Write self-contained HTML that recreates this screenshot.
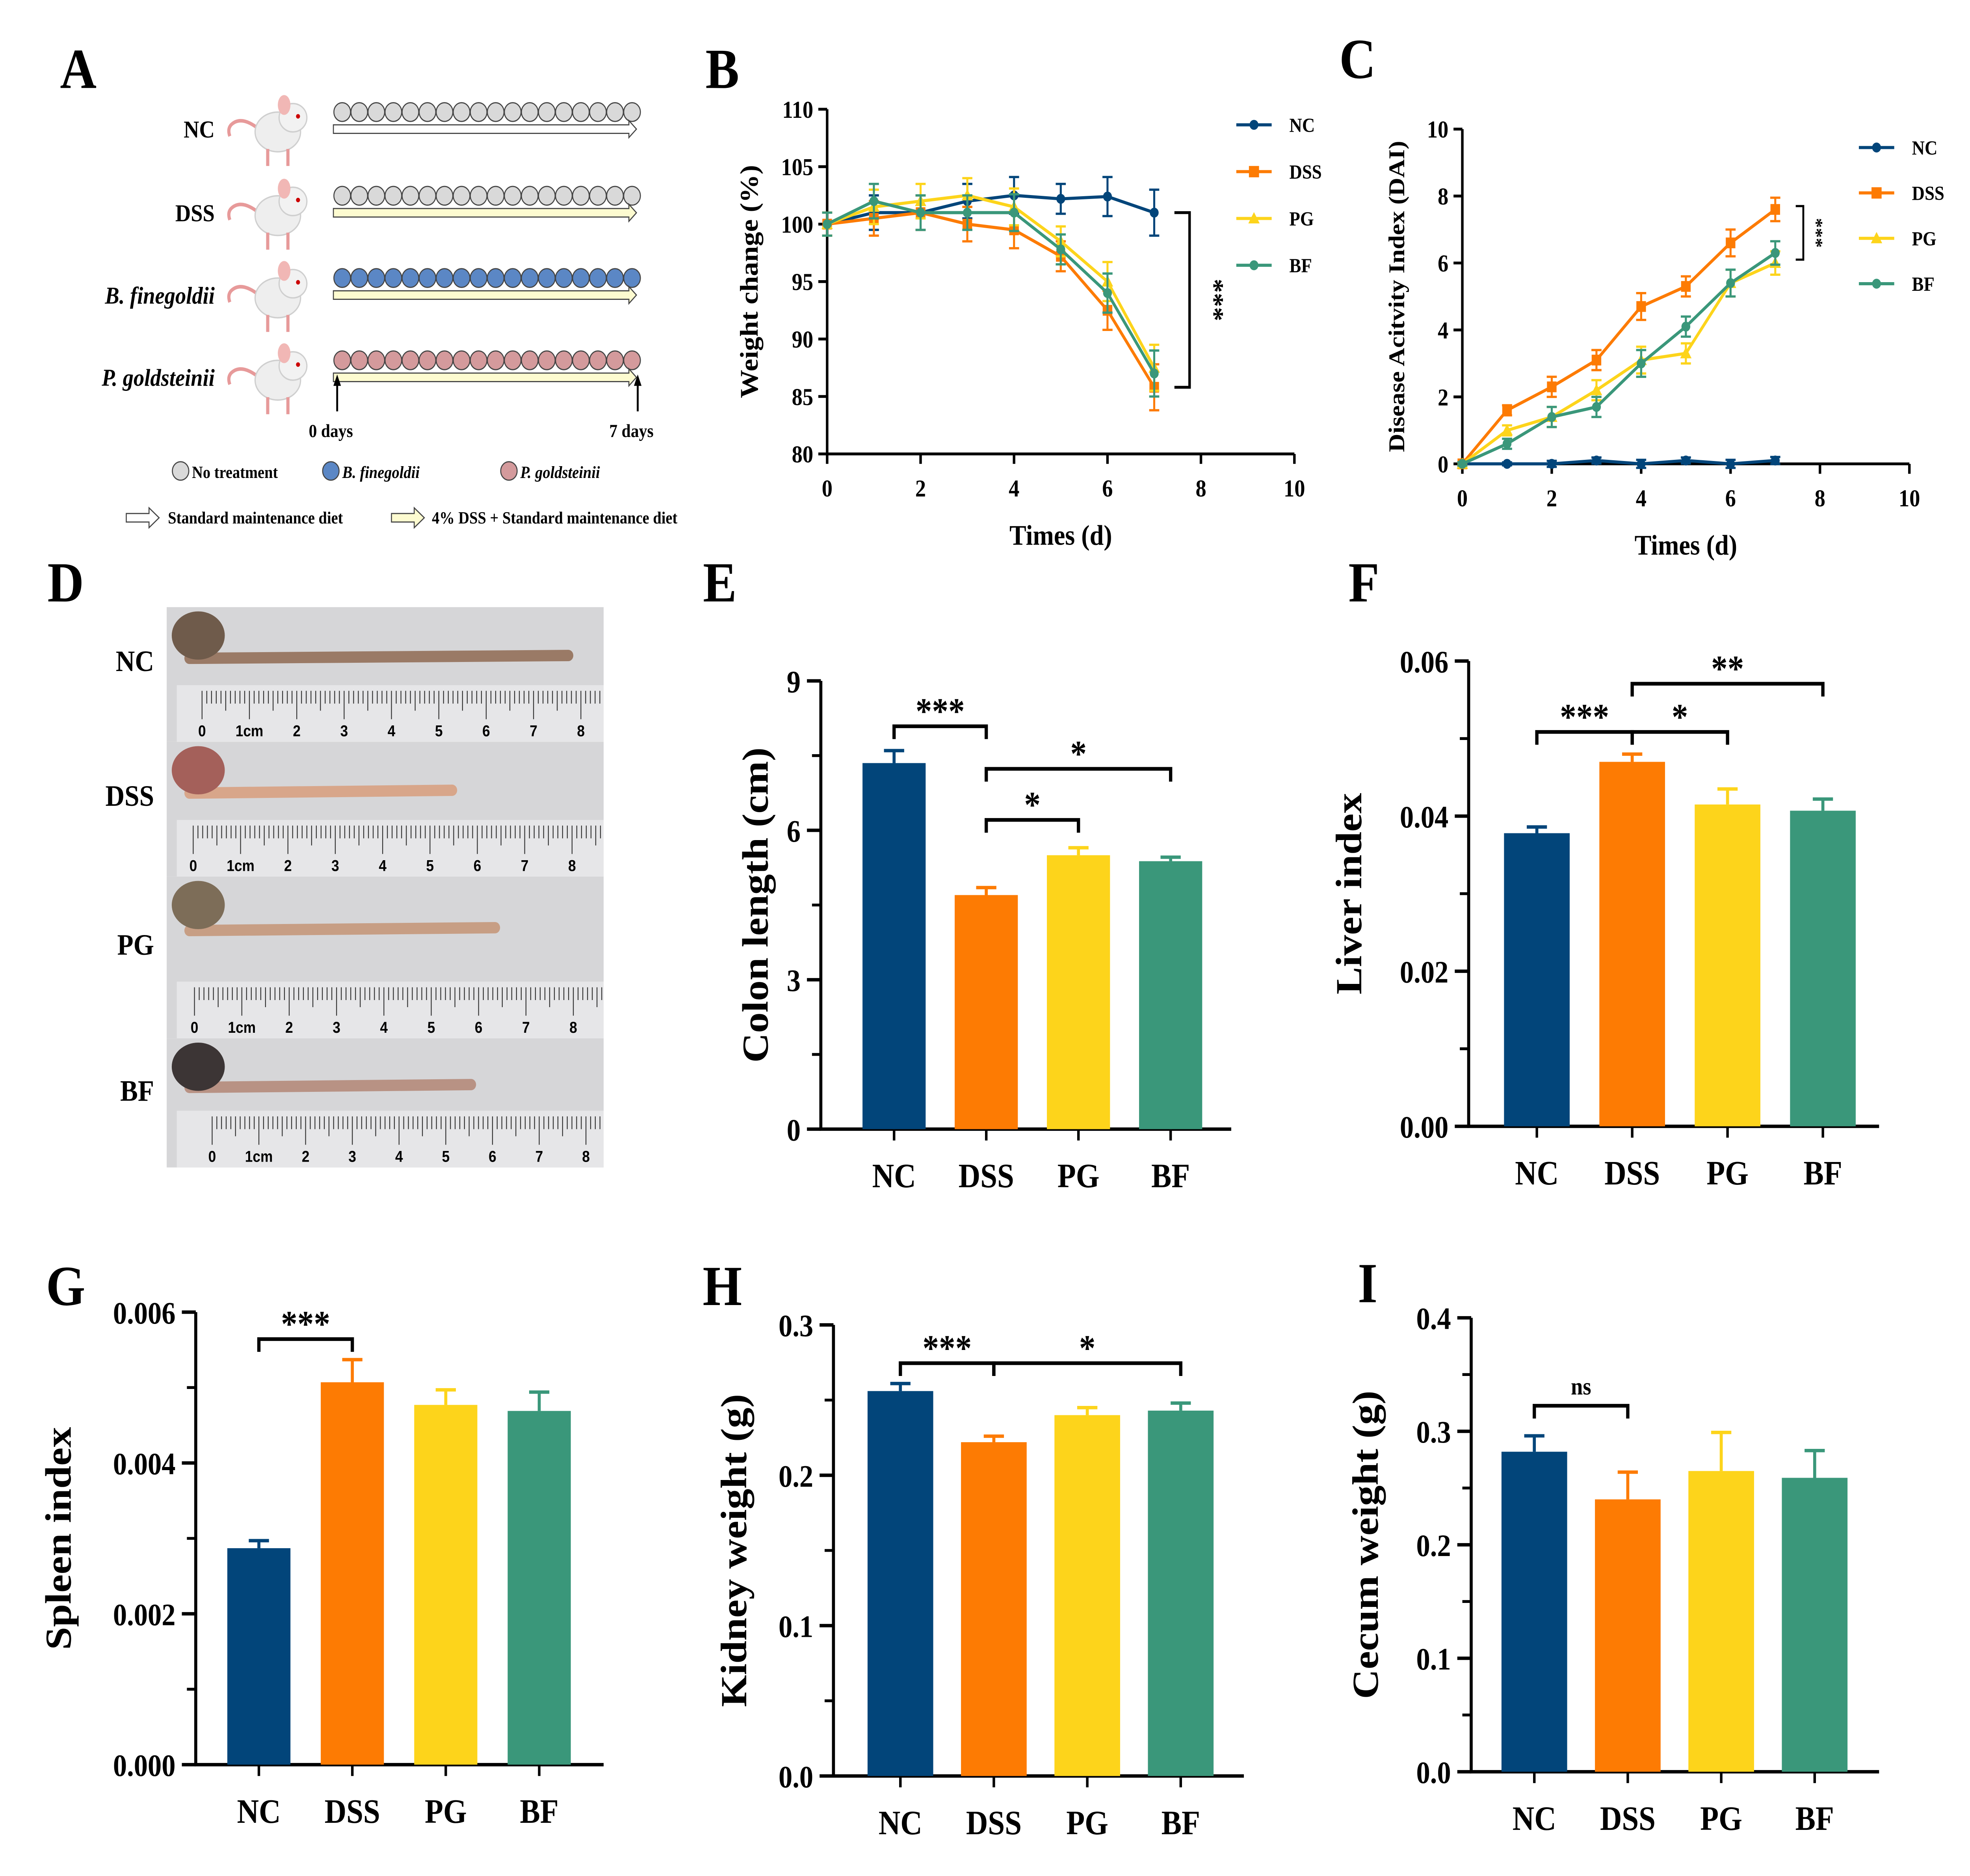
<!DOCTYPE html>
<html><head><meta charset="utf-8"><style>
html,body{margin:0;padding:0;background:#fff;width:100%;height:100%;overflow:hidden}
svg{display:block;position:fixed;left:0;top:0;width:100vw;height:100vh}
text{font-family:"Liberation Serif",serif;font-weight:bold;fill:#000}
</style></head><body>
<svg id="fig" xmlns="http://www.w3.org/2000/svg" viewBox="0 0 1560 1322.5" preserveAspectRatio="none">
<rect width="1560" height="1323" fill="#fff"/>
<g id="A"></g>
<g id="B"></g>
<g id="C"></g>
<g id="D"></g>
<g id="E"></g>
<g id="F"></g>
<g id="G"></g>
<g id="H"></g>
<g id="I"></g>
</svg>
<script>
const groups=["NC","DSS","PG","BF"];
const colors=["#02457a","#fd7b03","#fdd41b","#3a977a"];
const days=[0,1,2,3,4,5,6,7];
const weightNC=[100,101,101,102,102.5,102.2,102.4,101];
const weightDSS=[100,100.5,101,100,99.5,97.2,92.5,85.8];
const weightPG=[100,101.5,102,102.5,101.5,98.5,95,87.5];
const weightBF=[100,102,101,101,101,97.8,94,87];
const weightErr=[1,1.5,1.5,1.5,1.6,1.3,1.7,2];
const daiNC=[0,0,0,0.1,0,0.1,0,0.1];
const daiDSS=[0,1.6,2.3,3.1,4.7,5.3,6.6,7.6];
const daiPG=[0,1.0,1.4,2.2,3.1,3.3,5.4,6.0];
const daiBF=[0,0.6,1.4,1.7,3.0,4.1,5.4,6.3];
const daiErr=[0.05,0.15,0.3,0.3,0.4,0.3,0.4,0.35];
const colonVals=[7.35,4.7,5.5,5.38];const colonErr=[0.25,0.15,0.15,0.08];
const liverVals=[0.0378,0.047,0.0415,0.0407];const liverErr=[0.0008,0.001,0.002,0.0015];
const spleenVals=[0.00287,0.00507,0.00477,0.00469];const spleenErr=[0.0001,0.0003,0.0002,0.00025];
const kidneyVals=[0.256,0.222,0.240,0.243];const kidneyErr=[0.005,0.004,0.005,0.005];
const cecumVals=[0.282,0.240,0.265,0.259];const cecumErr=[0.014,0.024,0.034,0.024];

const NS="http://www.w3.org/2000/svg";
function el(parent,tag,attrs,txt){const e=document.createElementNS(NS,tag);for(const k in attrs)e.setAttribute(k,attrs[k]);if(txt!==undefined)e.textContent=txt;parent.appendChild(e);return e;}
function ln(p,x1,y1,x2,y2,c,w){return el(p,"line",{x1,y1,x2,y2,stroke:c||"#000","stroke-width":w||2});}

const letters=[["A",62,62],["B",572,62],["C",1075,55],["D",52,424],["E",570,424],["F",1080,424],["G",52,920],["H",572,920],["I",1083,918]];
letters.forEach(l=>{const t=el(document.getElementById("fig"),"text",{x:l[1],y:l[2],"font-size":40,"text-anchor":"middle"},l[0]);

});

// ---------- Panel A ----------
(function(){
const g=document.getElementById("A");
const rows=[{lab:"NC",y:79,fill:"#d9d9d9",arrow:"#fff",it:false},{lab:"DSS",y:138,fill:"#d9d9d9",arrow:"#fdfbd0",it:false},{lab:"B. finegoldii",y:196,fill:"#5b87c5",arrow:"#fdfbd0",it:true},{lab:"P. goldsteinii",y:254,fill:"#d49a9c",arrow:"#fdfbd0",it:true}];
rows.forEach((r,i)=>{
 const t=el(g,"text",{x:170,y:r.y+18,"font-size":17,"text-anchor":"end","font-style":r.it?"italic":"normal"},r.lab);
 
 const m=el(g,"g",{});
 const mx=220,my=r.y+12;
 el(m,"path",{d:`M${mx-15},${my} q-14,-10 -22,-3 q-3,3 -1,8`,fill:"none",stroke:"#e79a9a","stroke-width":2.5});
 el(m,"ellipse",{cx:mx,cy:my+2,rx:18,ry:14,fill:"#eeeeee",stroke:"#cfcfcf"});
 el(m,"ellipse",{cx:mx+12,cy:my-8,rx:11,ry:10,fill:"#f2f2f2",stroke:"#cfcfcf"});
 el(m,"ellipse",{cx:mx+5,cy:my-17,rx:5,ry:7,fill:"#f1b7b5"});
 el(m,"circle",{cx:mx+16,cy:my-9,r:1.6,fill:"#c00"});
 ln(m,mx-8,my+14,mx-8,my+26,"#e79a9a",2.5);ln(m,mx+8,my+14,mx+8,my+26,"#e79a9a",2.5);
 for(let k=0;k<18;k++)el(g,"circle",{cx:271+k*13.5,cy:r.y,r:6.6,fill:r.fill,stroke:"#444","stroke-width":0.8});
 const ay=r.y+12;
 const ar=el(g,"path",{d:`M264,${ay-3} H498 V${ay-6} L504,${ay} L498,${ay+6} V${ay+3} H264 Z`,fill:r.arrow,stroke:"#444","stroke-width":0.8});
 
});
ln(g,267,290,267,270,"#000",1.5);el(g,"path",{d:"M264,272 L267,264 L270,272Z",fill:"#000"});
ln(g,505,290,505,270,"#000",1.5);el(g,"path",{d:"M502,272 L505,264 L508,272Z",fill:"#000"});
el(g,"text",{x:262,y:308,"font-size":13,"text-anchor":"middle"},"0 days");
el(g,"text",{x:500,y:308,"font-size":13,"text-anchor":"middle"},"7 days");
const lg=[[143,"#d9d9d9","No treatment",false],[262,"#5b87c5","B. finegoldii",true],[403,"#d49a9c","P. goldsteinii",true]];
lg.forEach(l=>{el(g,"circle",{cx:l[0],cy:332,r:6.5,fill:l[1],stroke:"#444","stroke-width":0.8});
 const t=el(g,"text",{x:l[0]+9,y:337,"font-size":12,"font-weight":"normal","font-style":l[3]?"italic":"normal"},l[2]);});
el(g,"path",{d:"M100,362 H118 V358 L126,365 L118,372 V368 H100Z",fill:"#fff",stroke:"#444","stroke-width":0.8});
el(g,"text",{x:133,y:369,"font-size":12},"Standard  maintenance  diet");
el(g,"path",{d:"M310,362 H328 V358 L336,365 L328,372 V368 H310Z",fill:"#fdfbd0",stroke:"#444","stroke-width":0.8});
el(g,"text",{x:342,y:369,"font-size":12},"4% DSS + Standard  maintenance  diet");
})();

// ---------- Line charts ----------
function lineChart(gid,cfg,series,err){
 const g=document.getElementById(gid);
 const X=v=>cfg.x0+(v-cfg.xmin)/(cfg.xmax-cfg.xmin)*(cfg.x1-cfg.x0);
 const Y=v=>cfg.y0-(v-cfg.ymin)/(cfg.ymax-cfg.ymin)*(cfg.y0-cfg.y1);
 const ax=el(g,"g",{});
 ln(ax,cfg.x0,cfg.y0,cfg.x1,cfg.y0);ln(ax,cfg.x0,cfg.y0+1,cfg.x0,cfg.y1);
 cfg.xt.forEach(v=>{ln(ax,X(v),cfg.y0,X(v),cfg.y0+7);el(ax,"text",{x:X(v),y:cfg.y0+30,"font-size":17,"text-anchor":"middle","font-weight":"normal"},v);});
 cfg.yt.forEach(v=>{ln(ax,cfg.x0-7,Y(v),cfg.x0,Y(v));el(ax,"text",{x:cfg.x0-11,y:Y(v)+6,"font-size":17,"text-anchor":"end","font-weight":"normal"},v);});
 const xt=el(g,"text",{x:(cfg.x0+cfg.x1)/2-(cfg.xshift||0),y:cfg.y0+64,"font-size":20,"text-anchor":"middle"},"Times (d)");
 
 const yt=el(g,"text",{transform:`translate(${cfg.ytx},${(cfg.y0+cfg.y1)/2}) rotate(-90)`,"font-size":cfg.ytfs||20,"text-anchor":"middle"},cfg.ytitle);
 
 series.forEach((s,i)=>{
  const sg=el(g,"g",{});
  const pts=days.map((d,j)=>X(d)+","+Y(s[j])).join(" ");
  el(sg,"polyline",{points:pts,fill:"none",stroke:colors[i],"stroke-width":2.2});
  days.forEach((d,j)=>{const e=err[j]*(i==0&&gid=="C"?0.3:1);
   ln(sg,X(d),Y(s[j]-e),X(d),Y(s[j]+e),colors[i],1.6);ln(sg,X(d)-4,Y(s[j]-e),X(d)+4,Y(s[j]-e),colors[i],1.6);ln(sg,X(d)-4,Y(s[j]+e),X(d)+4,Y(s[j]+e),colors[i],1.6);
   if(i==0||i==3)el(sg,"circle",{cx:X(d),cy:Y(s[j]),r:3.5,fill:colors[i]});
   else if(i==1)el(sg,"rect",{x:X(d)-3.8,y:Y(s[j])-3.8,width:7.6,height:7.6,fill:colors[i]});
   else el(sg,"path",{d:`M${X(d)},${Y(s[j])-4.5} l4.5,8 h-9z`,fill:colors[i]});
  });
  const ly=cfg.ly+i*cfg.ldy;const lx=cfg.lx;
  const le=el(g,"g",{});
  ln(le,lx,ly,lx+28,ly,colors[i],2.2);
  if(i==0||i==3)el(le,"circle",{cx:lx+14,cy:ly,r:3.5,fill:colors[i]});else if(i==1)el(le,"rect",{x:lx+10,y:ly-4,width:8,height:8,fill:colors[i]});else el(le,"path",{d:`M${lx+14},${ly-4.5} l4.5,8 h-9z`,fill:colors[i]});
  el(le,"text",{x:lx+42,y:ly+5,"font-size":14},groups[i]);
 });
 return {X,Y,g};
}
const b=lineChart("B",{x0:655,x1:1025,xmin:0,xmax:10,y0:320,y1:77,ymin:80,ymax:110,xt:[0,2,4,6,8,10],yt:[80,85,90,95,100,105,110],ytitle:"Weight change (%)",ytx:600,lx:979,ly:88,ldy:33},[weightNC,weightDSS,weightPG,weightBF],weightErr);
el(b.g,"path",{d:`M930,${b.Y(101)} H942 V${b.Y(85.8)} H930`,fill:"none",stroke:"#000","stroke-width":2});
el(b.g,"text",{transform:`translate(955,${(b.Y(101)+b.Y(85.8))/2}) rotate(90)`,"font-size":20,"text-anchor":"middle"},"***");
const c=lineChart("C",{x0:1158,x1:1512,xmin:0,xmax:10,y0:327,y1:91,ymin:0,ymax:10,xt:[0,2,4,6,8,10],yt:[0,2,4,6,8,10],ytitle:"Disease Acitvity Index (DAI)",ytx:1112,ytfs:18,lx:1472,ly:104,ldy:32},[daiNC,daiDSS,daiPG,daiBF],daiErr);
el(c.g,"path",{d:`M1422,${c.Y(7.7)} H1428 V${c.Y(6.1)} H1422`,fill:"none",stroke:"#000","stroke-width":1.5});
el(c.g,"text",{transform:`translate(1434,${(c.Y(7.7)+c.Y(6.1))/2}) rotate(90)`,"font-size":14,"text-anchor":"middle"},"***");

// ---------- Panel D photo ----------
(function(){
const g=document.getElementById("D");
const strips=[{y:428,h:95,len:300,lab:"NC",ly:466,dark:"#6f5b4b",body:"#9a7a66"},{y:523,h:95,len:208,lab:"DSS",ly:561,dark:"#a4605a",body:"#d8a68a"},{y:618,h:114,len:242,lab:"PG",ly:666,dark:"#7d6d58",body:"#c79e84"},{y:732,h:91,len:223,lab:"BF",ly:769,dark:"#3c3535",body:"#b89284"}];
strips.forEach((s,i)=>{
 const sg=el(g,"g",{});
 el(sg,"rect",{x:132,y:s.y,width:346,height:s.h,fill:"#d6d6d8"});
 const ty=s.y+Math.min(38,s.h*0.38);
 el(sg,"path",{d:`M150,${ty} L${150+s.len},${ty-2}`,stroke:s.body,"stroke-width":8,"stroke-linecap":"round"});
 el(sg,"ellipse",{cx:157,cy:s.y+20,rx:21,ry:17,fill:s.dark});
 const ry=s.y+s.h-40;
 el(sg,"rect",{x:140,y:ry,width:338,height:40,fill:"#e6e6e8"});
 const x0=i==3?168:(i==0?160:(i==1?153:154)),cmw=i==3?37:37.5;
 for(let k=0;k<=88;k++){const x=x0+k*cmw/10;if(x>477)break;const L=k%10==0?20:(k%5==0?14:9);ln(sg,x,ry+4,x,ry+4+L,"#333",0.7);}
 for(let k=0;k<=8;k++){el(sg,"text",{x:x0+k*cmw,y:ry+36,"font-size":11,"font-weight":"normal","text-anchor":"middle",style:"font-family:'Liberation Sans',sans-serif"},k==1?"1cm":k);}
 el(g,"text",{x:122,y:s.ly+7,"font-size":21,"text-anchor":"end"},s.lab);
});
})();

// ---------- Bar charts ----------
function barChart(gid,cfg,vals,errs){
 const g=document.getElementById(gid);
 const Y=v=>cfg.y0-(v/cfg.ymax)*(cfg.y0-cfg.y1);
 const ax=el(g,"g",{});
 ln(ax,cfg.x0,cfg.y0,cfg.x0,cfg.y1,"#000",2.4);ln(ax,cfg.x0-1,cfg.y0,cfg.xend,cfg.y0,"#000",2.4);
 for(let v=0;v<=cfg.ymax+1e-9;v+=cfg.minor){ln(ax,cfg.x0-7,Y(v),cfg.x0,Y(v),"#000",2);}
 cfg.ticks.forEach(t=>{ln(ax,cfg.x0-11,Y(t[0]),cfg.x0,Y(t[0]),"#000",2.4);el(ax,"text",{x:cfg.x0-16,y:Y(t[0])+8,"font-size":22,"text-anchor":"end"},t[1]);});
 const yt=el(g,"text",{transform:`translate(${cfg.ytx},${(cfg.y0+cfg.y1)/2}) rotate(-90)`,"font-size":29,"text-anchor":"middle"},cfg.ytitle);
 
 vals.forEach((v,i)=>{
  const cx=cfg.cx0+i*cfg.dx;
  const bg=el(g,"g",{});
  const top=Y(v+errs[i]);
  ln(bg,cx,Y(v),cx,top,colors[i],2.4);ln(bg,cx-8,top,cx+8,top,colors[i],2.4);
  el(bg,"rect",{x:cx-cfg.bw/2,y:Y(v),width:cfg.bw,height:cfg.y0-Y(v),fill:colors[i]});
  ln(ax,cx,cfg.y0,cx,cfg.y0+8,"#000",2);
  el(ax,"text",{x:cx,y:cfg.y0+41,"font-size":24,"text-anchor":"middle"},groups[i]);
 });
 cfg.sig.forEach(s=>{
  const a=cfg.cx0+s[0]*cfg.dx,bb=cfg.cx0+s[1]*cfg.dx,y=s[2];
  const sg=el(g,"g",{});
  el(sg,"path",{d:`M${a},${y+9} V${y} H${bb} V${y+9}`,fill:"none",stroke:"#000","stroke-width":2.6});
  el(sg,"text",{x:(a+bb)/2,y:y+(s[3]=="ns"?-8:-2),"font-size":s[3]=="ns"?17:26,"text-anchor":"middle"},s[3]);
 });
}
barChart("E",{x0:650,xend:975,y0:796,y1:480,ymax:9,minor:1.5,ticks:[[0,"0"],[3,"3"],[6,"6"],[9,"9"]],ytitle:"Colon length (cm)",ytx:608,cx0:708,dx:73,bw:50,
 sig:[[0,1,512,"***"],[1,2,578,"*"],[1,3,542,"*"]]},colonVals,colonErr);
barChart("F",{x0:1163,xend:1488,y0:794,y1:466,ymax:0.06,minor:0.01,ticks:[[0,"0.00"],[0.02,"0.02"],[0.04,"0.04"],[0.06,"0.06"]],ytitle:"Liver index",ytx:1078,cx0:1217,dx:75.5,bw:52,
 sig:[[0,1,516,"***"],[1,2,516,"*"],[1,3,482,"**"]]},liverVals,liverErr);
barChart("G",{x0:155,xend:478,y0:1244,y1:925,ymax:0.006,minor:0.001,ticks:[[0,"0.000"],[0.002,"0.002"],[0.004,"0.004"],[0.006,"0.006"]],ytitle:"Spleen index",ytx:56,cx0:205,dx:74,bw:50,
 sig:[[0,1,944,"***"]]},spleenVals,spleenErr);
barChart("H",{x0:660,xend:985,y0:1252,y1:934,ymax:0.3,minor:0.05,ticks:[[0,"0.0"],[0.1,"0.1"],[0.2,"0.2"],[0.3,"0.3"]],ytitle:"Kidney weight (g)",ytx:591,cx0:713,dx:74,bw:52,
 sig:[[0,1,961,"***"],[1,3,961,"*"]]},kidneyVals,kidneyErr);
barChart("I",{x0:1165,xend:1488,y0:1249,y1:929,ymax:0.4,minor:0.05,ticks:[[0,"0.0"],[0.1,"0.1"],[0.2,"0.2"],[0.3,"0.3"],[0.4,"0.4"]],ytitle:"Cecum weight (g)",ytx:1091,cx0:1215,dx:74,bw:52,
 sig:[[0,1,991,"ns"]]},cecumVals,cecumErr);
</script>
</body></html>
